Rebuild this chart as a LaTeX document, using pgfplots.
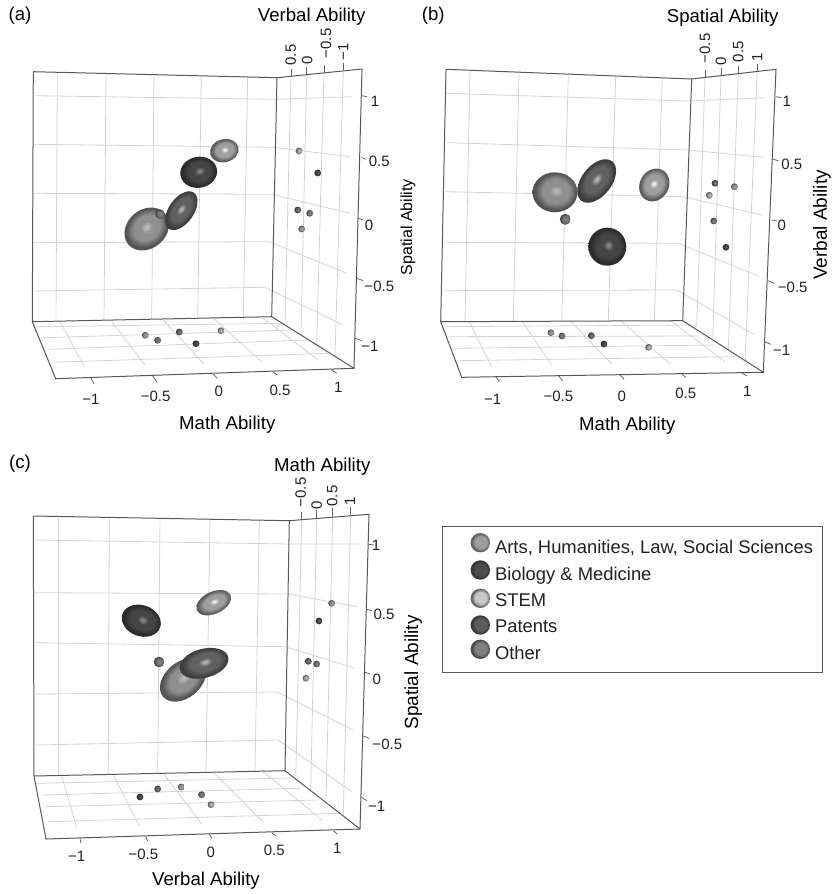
\documentclass[border=0pt]{standalone}
\usepackage{fontspec}
\setmainfont{Liberation Sans}
\usepackage{pgfplots}
\pgfplotsset{compat=1.18}
\definecolor{gridc}{gray}{0.83}
\definecolor{framec}{gray}{0.34}
\definecolor{tickc}{gray}{0.4}
\definecolor{txt}{gray}{0.13}
% radial shadings: rim, body, highlight
\newcommand{\defshade}[4]{%
  \pgfdeclareradialshading{sh#1}{\pgfqpoint{1.5bp}{2bp}}{%
    gray(0bp)=(#4); gray(1.5bp)=(#4); gray(7bp)=(#3); gray(15bp)=(#3); gray(23bp)=(#2); gray(25bp)=(#2); gray(50bp)=(#2)}%
  \pgfdeclareplotmark{m#1}{\pgflowlevelsynccm
    \pgfpathcircle{\pgfqpoint{0pt}{0pt}}{1pt}\pgfshadepath{sh#1}{0}\pgfusepath{discard}}%
}
\defshade{arts}{0.33}{0.56}{0.72}
\defshade{bio}{0.17}{0.27}{0.52}
\defshade{stem}{0.36}{0.62}{0.92}
\defshade{pat}{0.24}{0.38}{0.70}
\defshade{oth}{0.27}{0.45}{0.55}
\defshade{lgarts}{0.38}{0.62}{0.62}
\defshade{lgbio}{0.20}{0.30}{0.30}
\defshade{lgstem}{0.40}{0.78}{0.78}
\defshade{lgpat}{0.22}{0.36}{0.36}
\defshade{lgoth}{0.28}{0.50}{0.50}
\newcommand{\E}[6]{\addplot[only marks,mark=m#1,mark size=1pt,mark options={rotate=#6,xscale=#4,yscale=#5}] coordinates {(#2,#3)};}
\newcommand{\G}[1]{\addplot[gridc,line width=0.8pt] coordinates {#1};}
\newcommand{\F}[1]{\addplot[framec,line width=1pt] coordinates {#1};}
\newcommand{\K}[1]{\addplot[tickc,line width=0.8pt] coordinates {#1};}
\newcommand{\T}[3]{\node[text=txt,font=\fontsize{15}{15}\selectfont] at (axis cs:#1,#2) {#3};}
\newcommand{\R}[3]{\node[text=txt,rotate=90,font=\fontsize{15}{15}\selectfont] at (axis cs:#1,#2) {#3};}
\newcommand{\LB}[3]{\node[text=black,font=\fontsize{18.6}{18.6}\selectfont] at (axis cs:#1,#2) {#3};}
\newcommand{\LR}[4]{\node[text=black,rotate=90,font=\fontsize{#4}{#4}\selectfont] at (axis cs:#1,#2) {#3};}
\newcommand{\LG}[3]{\node[text=txt,anchor=base west,font=\fontsize{18.4}{18.4}\selectfont] at (axis cs:#1,#2) {#3};}
\begin{document}
\begin{tikzpicture}
\begin{axis}[hide axis,scale only axis,width=836pt,height=894pt,
  xmin=0,xmax=836,ymin=0,ymax=894,y dir=reverse,clip=false]
\path (axis cs:0,0) rectangle (axis cs:836,894);
%% ---------------- panel (a)
\G{(57.3,73)(56,320)}\G{(106,74.5)(104,320)}\G{(154,75.5)(151.7,319)}\G{(201.3,76.5)(197.7,318.5)}\G{(247.7,77)(243.3,317.5)}
\G{(35,95.7)(275,99.3)(352,96.7)}\G{(35,144.3)(273.3,147.3)(350,156.7)}\G{(34,193.3)(271.7,194.3)(350,213.3)}
\G{(33.3,242.7)(269.3,241.7)(346.7,273.3)}\G{(33.3,291)(265,287.3)(343.3,325)}
\G{(291,76)(285,323.3)}\G{(306.7,74)(301,333.3)}\G{(324,71.7)(316.7,345)}\G{(343.3,70)(335,356.7)}
\G{(60,321.7)(84.3,366.7)}\G{(111.7,321.7)(145,365)}\G{(163.3,320)(204,364)}\G{(213.3,318.3)(261.7,361.7)}\G{(263.3,318.3)(318.3,360)}
\G{(36.7,326.7)(281.7,323.3)}\G{(43.3,337.7)(293.3,330)}\G{(48.3,349.3)(306.7,340)}\G{(52.7,362.3)(328.3,353.3)}
\F{(33.3,71.7)(277,77.7)(362,69)(354,368.3)(55.7,378.7)(32.3,321.7)(33.3,71.7)}
\F{(277,77.7)(271.7,316.7)(32.3,321.7)}\F{(271.7,316.7)(354,368.3)}
\K{(91,378.3)(94,384)}\K{(152.7,376)(156.7,381.7)}\K{(213.3,374)(217.3,378.3)}\K{(273.3,372.3)(277.3,375)}\K{(331.7,370)(336.7,373.3)}
\K{(362.3,95.7)(366.7,96.7)}\K{(361.7,157.3)(365.7,159.3)}\K{(358.3,218.3)(363.3,220)}\K{(356.7,278.3)(363.3,280.7)}\K{(355,338.3)(361.7,340.7)}
\K{(291,69)(291,76)}\K{(306.7,67)(306.7,74)}\K{(324,65)(324,71.7)}\K{(343.3,63)(343.3,70)}
\T{91}{399.3}{−1}\T{155.7}{396}{−0.5}\T{218.7}{391.7}{0}\T{280}{390}{0.5}\T{338.3}{387.3}{1}
\T{375}{101}{1}\T{379.3}{161}{0.5}\T{369}{225}{0}\T{379.3}{286}{−0.5}\T{370}{346}{−1}
\R{290.7}{55}{0.5}\R{307.3}{60}{0}\R{326}{43.3}{−0.5}\R{343.3}{52}{−1}
\LB{227.3}{424.3}{Math Ability}\LB{311.7}{16.7}{Verbal Ability}\LB{20}{15.7}{(a)}
\LR{408}{227}{Spatial Ability}{16}
\E{arts}{146.7}{229}{24}{19.5}{40}
\E{pat}{181.3}{210.7}{22}{12.5}{55}
\E{bio}{198.7}{172.3}{18.5}{15.5}{10}
\E{stem}{224.3}{150.7}{14.5}{11.5}{15}
\E{oth}{160}{214}{4.7}{4.7}{0}
\E{stem}{299}{151}{3.4}{3.4}{0}\E{bio}{317.7}{173}{3.4}{3.4}{0}\E{pat}{297.7}{210}{3.4}{3.4}{0}\E{oth}{309.7}{213.3}{3.4}{3.4}{0}\E{arts}{301.7}{229}{3.4}{3.4}{0}
\E{arts}{145.3}{335.3}{3.4}{3.4}{0}\E{oth}{157.7}{340.3}{3.4}{3.4}{0}\E{pat}{179.3}{332}{3.4}{3.4}{0}\E{bio}{196}{343.7}{3.4}{3.4}{0}\E{stem}{221}{330.7}{3.4}{3.4}{0}
%% ---------------- panel (b)
\G{(470,71)(465,321)}\G{(519,73)(513.3,321)}\G{(568.3,75)(561.7,321)}\G{(615.7,77)(608.3,320.5)}\G{(662.3,78.5)(654.3,320.5)}
\G{(446.7,93.3)(686.7,101)(765,97.7)}\G{(446.7,142.7)(688,150)(763.3,157.3)}\G{(445,191.7)(683.3,196.7)(761.7,215)}
\G{(444,242.3)(678.3,243.3)(758.3,276)}\G{(443.3,290.7)(676.7,290)(755,335)}
\G{(705,77.3)(696.7,327.3)}\G{(721,75.3)(712.7,338.3)}\G{(738.3,73.3)(728.3,350)}\G{(757.3,70.7)(745,361.7)}
\G{(469.3,321.7)(491.7,366.7)}\G{(521.7,320.7)(551.7,365)}\G{(570,320.7)(611.7,364)}\G{(620,320)(670,364)}\G{(670,320)(725,361.7)}
\G{(443.3,326.7)(690,325)}\G{(448.3,336.7)(698.3,336)}\G{(455,348.3)(715,345)}\G{(458.3,360.7)(735,356.7)}
\F{(446,69.3)(691.7,79)(776,69.3)(763.3,372.3)(461.7,377.3)(440.7,321.7)(446,69.3)}
\F{(691.7,79)(682.7,320.7)(440.7,321.7)}\F{(682.7,320.7)(763.3,372.3)}
\K{(496,376.7)(499.3,381.7)}\K{(558.3,375.7)(562.7,380.7)}\K{(620,375)(624,379.3)}\K{(681,373.3)(685.7,377.3)}\K{(741.7,372.7)(746.7,376)}
\K{(776,96.7)(781,97.7)}\K{(773.3,159.3)(778.3,160.7)}\K{(771.7,220)(776.7,221)}\K{(768.3,280.7)(774.3,283.3)}\K{(764.3,341.7)(771,344.3)}
\K{(705,70)(705,77.3)}\K{(721,68)(721,75.3)}\K{(738.3,66)(738.3,73.3)}\K{(757.3,64)(757.3,70.7)}
\T{492.7}{399.3}{−1}\T{558.3}{396}{−0.5}\T{621.7}{396}{0}\T{685.7}{393.3}{0.5}\T{747.3}{391}{1}
\T{786.7}{101}{1}\T{791.7}{164.3}{0.5}\T{781.7}{225}{0}\T{792.7}{287.7}{−0.5}\T{781.7}{350}{−1}
\R{705}{48.3}{−0.5}\R{721}{61}{0}\R{738.3}{51.7}{0.5}\R{757.3}{57.3}{1}
\LB{627.3}{426}{Math Ability}\LB{722.7}{17.3}{Spatial Ability}\LB{433.3}{15.7}{(b)}
\LR{822}{225}{Verbal Ability}{19}
\E{arts}{555}{192.3}{22.5}{20}{0}
\E{pat}{596.7}{181}{25}{15}{52}
\E{stem}{654.3}{185}{17}{14.5}{60}
\E{bio}{607.3}{246.7}{19}{19}{0}
\E{oth}{565.3}{219.3}{5.5}{5.5}{0}
\E{pat}{715}{183.3}{3.4}{3.4}{0}\E{arts}{734.3}{186.7}{3.4}{3.4}{0}\E{stem}{709.3}{195.3}{3.4}{3.4}{0}\E{oth}{713.7}{221}{3.4}{3.4}{0}\E{bio}{726}{247.3}{3.4}{3.4}{0}
\E{arts}{551}{332.7}{3.4}{3.4}{0}\E{oth}{562}{336}{3.4}{3.4}{0}\E{pat}{591.3}{335.7}{3.4}{3.4}{0}\E{bio}{604}{344}{3.4}{3.4}{0}\E{stem}{648.7}{347.3}{3.4}{3.4}{0}
%% ---------------- panel (c)
\G{(58.3,518)(58.3,774.5)}\G{(109.3,518.7)(108.3,773.5)}\G{(160,519)(157.7,772.5)}\G{(210,519.7)(206,771.5)}\G{(259.3,520.3)(255,771)}
\G{(35,540)(289,544)(358.3,544)}\G{(35,592.7)(288.3,594)(356.7,606.7)}\G{(35,642.7)(285,646.7)(355,668.3)}
\G{(35,694)(277,692)(353,730)}\G{(35,745)(278.3,740)(351.7,791.7)}
\G{(301.7,520)(295.7,778.3)}\G{(316.7,518.3)(310.7,790)}\G{(332.7,516.7)(326,801.7)}\G{(350.7,515)(343.3,815)}
\G{(61.7,776)(76.7,827.3)}\G{(113.3,775)(139.3,825.7)}\G{(163.3,773.3)(201.7,824)}\G{(213.3,772.3)(263.3,822.3)}\G{(263.3,771.7)(322.7,820.7)}
\G{(36.7,783.3)(290,778)}\G{(41.7,795)(300,788.3)}\G{(45,806.7)(316.7,800)}\G{(48.3,821.7)(340,813.3)}
\F{(33.3,516)(289.3,520.7)(369,514.3)(360,829)(46,839)(34,776)(33.3,516)}
\F{(289.3,520.7)(285,770.7)(34,776)}\F{(285,770.7)(360,829)}
\K{(80,838.3)(81,843.3)}\K{(145.7,836.7)(147.7,841)}\K{(209.3,834.3)(212,838.3)}\K{(271.7,832.7)(275.7,835.7)}\K{(333.3,830.7)(337.3,834)}
\K{(368.3,544.3)(374,545)}\K{(366.7,609.3)(371.7,610.7)}\K{(365,672.3)(370,674)}\K{(363.3,736)(369.3,738.3)}\K{(361.7,797.3)(366.7,800.7)}
\K{(301.7,511.7)(301.7,520)}\K{(316.7,510)(316.7,518.3)}\K{(332.7,508.3)(332.7,516.7)}\K{(350.7,507.3)(350.7,515)}
\T{76.7}{856}{−1}\T{143.3}{854.3}{−0.5}\T{210.7}{852.3}{0}\T{274.3}{850}{0.5}\T{337.3}{848.3}{1}
\T{376}{545}{1}\T{384}{614.3}{0.5}\T{376.7}{679}{0}\T{387.3}{744}{−0.5}\T{376.7}{806}{−1}
\R{300.7}{492.3}{−0.5}\R{316.7}{505}{0}\R{332.3}{496}{0.5}\R{350}{501.7}{1}
\LB{206}{881}{Verbal Ability}\LB{322.3}{466.7}{Math Ability}\LB{20}{464}{(c)}
\LR{413.3}{672.3}{Spatial Ability}{19}
\E{arts}{183}{680}{26}{18}{40}
\E{pat}{204}{663.3}{25}{14.5}{15}
\E{bio}{141.3}{620.7}{20}{15.5}{-20}
\E{stem}{213.7}{602.7}{18.5}{11}{25}
\E{oth}{159}{662}{5.3}{5.3}{0}
\E{arts}{331.7}{603.3}{3.4}{3.4}{0}\E{bio}{319}{621}{3.4}{3.4}{0}\E{pat}{308.3}{661.3}{3.4}{3.4}{0}\E{oth}{316.7}{664}{3.4}{3.4}{0}\E{stem}{306}{678.3}{3.4}{3.4}{0}
\E{bio}{140}{797}{3.4}{3.4}{0}\E{pat}{157.7}{789}{3.4}{3.4}{0}\E{arts}{181.3}{787}{3.4}{3.4}{0}\E{oth}{201.7}{794.7}{3.4}{3.4}{0}\E{stem}{211}{804.7}{3.4}{3.4}{0}
%% ---------------- legend
\F{(442.7,526)(822.7,526)(822.7,672.3)(442.7,672.3)(442.7,526)}
\E{lgarts}{480.3}{542.7}{9.7}{9.7}{0}\E{lgbio}{480.3}{570}{9.7}{9.7}{0}\E{lgstem}{480.3}{598.3}{9.7}{9.7}{0}\E{lgpat}{480.3}{625}{9.7}{9.7}{0}\E{lgoth}{480.3}{649.3}{9.7}{9.7}{0}
\LG{491.5}{553.3}{Arts, Humanities, Law, Social Sciences}
\LG{491.5}{580}{Biology \& Medicine}
\LG{491.5}{606}{STEM}
\LG{491.5}{632.7}{Patents}
\LG{491.5}{659}{Other}
\end{axis}
\end{tikzpicture}
\end{document}
